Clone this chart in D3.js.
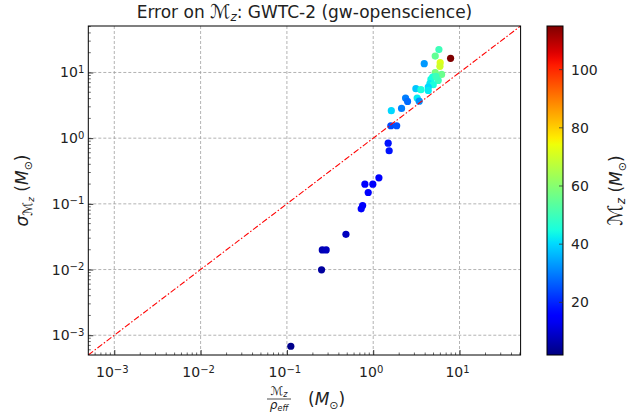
<!DOCTYPE html>
<html>
<head>
<meta charset="utf-8">
<script src="https://cdn.jsdelivr.net/npm/d3@7"></script>
<style>
  body { margin: 0; background: #fff; }
  svg { display: block; font-family: "DejaVu Sans", sans-serif; }
</style>
</head>
<body>
<svg id="chart" width="641" height="420"></svg>
<script>
// ---- data ----
const mzOverRho = [0.111, 0.252, 0.257, 0.285, 0.483, 0.726, 0.754, 0.801, 0.99, 0.875, 1.164,
  1.49, 1.53, 1.60, 1.87, 1.62, 2.13, 2.37, 2.50, 3.12, 3.57, 3.23, 3.41, 3.90,
  5.77, 5.23, 5.97, 5.93, 7.88, 5.23, 6.2,
  4.66, 4.54, 5.66, 4.96, 4.34, 4.34, 4.88, 5.33];
const sigmaMz = [0.00068, 0.0099, 0.0199, 0.0199, 0.0344, 0.0839, 0.0942, 0.199, 0.199, 0.149, 0.249,
  0.84, 0.643, 1.546, 1.546, 2.62, 2.84, 4.07, 3.63, 5.66, 5.47, 4.07, 3.66, 13.6,
  22.3, 17.8, 14.1, 12.4, 16.4, 9.93, 9.35,
  7.85, 6.75, 7.58, 6.52, 5.99, 5.33, 8.51, 8.7];
const chirpMassZ = [3, 5, 7, 8, 8, 14, 14, 15, 14, 15, 16,
  18, 18, 24, 25, 40, 30, 30, 28, 38, 45, 42, 32, 33,
  50, 55, 72, 70, 115, 58, 56,
  44, 42, 50, 45, 40, 42, 45, 50];
const xTickExps = [-3, -2, -1, 0, 1];
const yTickExps = [-3, -2, -1, 0, 1];
const cbTicks = [20, 40, 60, 80, 100];
const axisDomain = [5e-4, 51];
const cbDomain = [1.9, 115];

// ---- layout ----
const svg = d3.select("#chart");
const L = 88.3, R = 520.6, T = 26, B = 355;
const cbL = 547, cbR = 563;

const x = d3.scaleLog().domain(axisDomain).range([L, R]);
const y = d3.scaleLog().domain(axisDomain).range([B, T]);
const c = d3.scaleLinear().domain(cbDomain).range([B, T]);

// jet colormap (matplotlib segment data)
const jr = d3.scaleLinear().domain([0, 0.35, 0.66, 0.89, 1]).range([0, 0, 1, 1, 0.5]).clamp(true);
const jg = d3.scaleLinear().domain([0, 0.125, 0.375, 0.64, 0.91, 1]).range([0, 0, 1, 1, 0, 0]).clamp(true);
const jb = d3.scaleLinear().domain([0, 0.11, 0.34, 0.65, 1]).range([0.5, 1, 1, 0, 0]).clamp(true);
const norm = d3.scaleLinear().domain(cbDomain).range([0, 1]).clamp(true);
function jet(v) {
  const t = norm(v);
  return d3.rgb(jr(t) * 255, jg(t) * 255, jb(t) * 255).formatHex();
}

// grid
const majorX = xTickExps.map(e => Math.pow(10, e));
const majorY = yTickExps.map(e => Math.pow(10, e));
const grid = svg.append("g").attr("stroke", "#a0a0a0").attr("stroke-width", 0.8).attr("stroke-dasharray", "3,2");
grid.selectAll(".gx").data(majorX).join("line")
  .attr("x1", d => x(d)).attr("x2", d => x(d)).attr("y1", T).attr("y2", B);
grid.selectAll(".gy").data(majorY).join("line")
  .attr("y1", d => y(d)).attr("y2", d => y(d)).attr("x1", L).attr("x2", R);

// points
const clipId = "plotclip";
svg.append("clipPath").attr("id", clipId).append("rect").attr("x", L).attr("y", T).attr("width", R - L).attr("height", B - T);
const pts = mzOverRho.map((v, i) => ({ x: v, y: sigmaMz[i], m: chirpMassZ[i] }));
svg.append("g").attr("clip-path", `url(#${clipId})`)
  .selectAll("circle").data(pts).join("circle")
  .attr("cx", d => x(d.x)).attr("cy", d => y(d.y)).attr("r", 3.6)
  .attr("fill", d => jet(d.m));

// y = x line
svg.append("g").attr("clip-path", `url(#${clipId})`)
  .append("line")
  .attr("x1", x(axisDomain[0])).attr("y1", y(axisDomain[0]))
  .attr("x2", x(axisDomain[1])).attr("y2", y(axisDomain[1]))
  .attr("stroke", "#ff0000").attr("stroke-width", 1.1).attr("stroke-dasharray", "6,2,1.5,2");

// axes with inward ticks
function supLabel(sel, exp) {
  sel.text(null);
  sel.append("tspan").text("10");
  sel.append("tspan").attr("dy", "-0.45em").attr("font-size", "10px").text(exp < 0 ? "\u2212" + (-exp) : String(exp));
}
const xAxis = d3.axisBottom(x).tickValues(majorX).tickSize(-5).tickPadding(9).tickFormat(() => "");
const gx = svg.append("g").attr("transform", `translate(0,${B})`).call(xAxis);
const yAxis = d3.axisLeft(y).tickValues(majorY).tickSize(-5).tickPadding(4).tickFormat(() => "");
const gy = svg.append("g").attr("transform", `translate(${L},0)`).call(yAxis);
[gx, gy].forEach(g => { g.select(".domain").remove(); g.selectAll("line").attr("stroke", "#000").attr("stroke-width", 0.8); });

// minor ticks
const minorX = [], minorY = [];
for (let e = -4; e <= 1; e++) for (let k = 2; k <= 9; k++) {
  const v = k * Math.pow(10, e);
  if (v > axisDomain[0] && v < axisDomain[1]) { minorX.push(v); minorY.push(v); }
}
svg.append("g").selectAll("line").data(minorX).join("line")
  .attr("x1", d => x(d)).attr("x2", d => x(d)).attr("y1", B).attr("y2", B - 2.5)
  .attr("stroke", "#000").attr("stroke-width", 0.6);
svg.append("g").selectAll("line").data(minorY).join("line")
  .attr("y1", d => y(d)).attr("y2", d => y(d)).attr("x1", L).attr("x2", L + 2.5)
  .attr("stroke", "#000").attr("stroke-width", 0.6);

// tick labels
svg.append("g").selectAll("text").data(xTickExps).join("text")
  .attr("x", d => x(Math.pow(10, d)) - 2).attr("y", B + 22).attr("text-anchor", "middle")
  .attr("font-size", "14px").attr("fill", "#222")
  .each(function (d) { supLabel(d3.select(this), d); });
svg.append("g").selectAll("text").data(yTickExps).join("text")
  .attr("x", L - 4).attr("y", d => y(Math.pow(10, d)) + 5).attr("text-anchor", "end")
  .attr("font-size", "14px").attr("fill", "#222")
  .each(function (d) { supLabel(d3.select(this), d); });

// frame
svg.append("rect").attr("x", L).attr("y", T).attr("width", R - L).attr("height", B - T)
  .attr("fill", "none").attr("stroke", "#000").attr("stroke-width", 1);

// title
const title = svg.append("text").attr("x", (L + R) / 2).attr("y", 18).attr("text-anchor", "middle")
  .attr("font-size", "17px").attr("fill", "#222");
title.append("tspan").text("Error on ");
title.append("tspan").attr("font-size", "19px").text("\u2133");
title.append("tspan").attr("font-style", "italic").attr("font-size", "12px").attr("dy", "3").text("z");
title.append("tspan").attr("dy", "-3").text(": GWTC-2 (gw-openscience)");

// y label
const yl = svg.append("text").attr("transform", `translate(28,${(T + B) / 2}) rotate(-90)`)
  .attr("text-anchor", "middle").attr("font-size", "17px").attr("fill", "#222");
yl.append("tspan").attr("font-style", "italic").text("\u03c3");
yl.append("tspan").attr("font-size", "13px").attr("dy", "4").text("\u2133");
yl.append("tspan").attr("font-size", "9px").attr("font-style", "italic").attr("dy", "2").text("z");
yl.append("tspan").attr("dy", "-6").text(" (");
yl.append("tspan").attr("font-style", "italic").text("M");
yl.append("tspan").attr("font-size", "11px").attr("dy", "4").text("\u2299");
yl.append("tspan").attr("dy", "-4").text(")");

// x label (fraction)
const fx = 279, fy = 402;
const num = svg.append("text").attr("x", fx).attr("y", fy - 7).attr("text-anchor", "middle")
  .attr("font-size", "12px").attr("fill", "#222");
num.append("tspan").text("\u2133");
num.append("tspan").attr("font-style", "italic").attr("font-size", "8px").attr("dy", "2").text("z");
svg.append("line").attr("x1", fx - 12).attr("x2", fx + 12).attr("y1", fy - 3).attr("y2", fy - 3)
  .attr("stroke", "#222").attr("stroke-width", 0.8);
const den = svg.append("text").attr("x", fx).attr("y", fy + 7).attr("text-anchor", "middle")
  .attr("font-size", "12px").attr("fill", "#222").attr("font-style", "italic");
den.append("tspan").text("\u03c1");
den.append("tspan").attr("font-size", "8px").attr("dy", "2").text("eff");
const xl = svg.append("text").attr("x", fx + 29).attr("y", fy + 3).attr("font-size", "17px").attr("fill", "#222");
xl.append("tspan").text("(");
xl.append("tspan").attr("font-style", "italic").text("M");
xl.append("tspan").attr("font-size", "11px").attr("dy", "4").text("\u2299");
xl.append("tspan").attr("dy", "-4").text(")");

// colorbar
const defs = svg.append("defs");
const grad = defs.append("linearGradient").attr("id", "jetgrad").attr("x1", 0).attr("y1", 1).attr("x2", 0).attr("y2", 0);
const stops = d3.range(0, 1.0001, 0.02);
grad.selectAll("stop").data(stops).join("stop")
  .attr("offset", d => d).attr("stop-color", d => jet(cbDomain[0] + d * (cbDomain[1] - cbDomain[0])));
svg.append("rect").attr("x", cbL).attr("y", T).attr("width", cbR - cbL).attr("height", B - T)
  .attr("fill", "url(#jetgrad)").attr("stroke", "#000").attr("stroke-width", 1);
const cbAxis = svg.append("g");
cbAxis.selectAll("line").data(cbTicks).join("line")
  .attr("x1", cbR - 4).attr("x2", cbR).attr("y1", d => c(d)).attr("y2", d => c(d))
  .attr("stroke", "#333").attr("stroke-width", 0.8);
cbAxis.selectAll("text").data(cbTicks).join("text")
  .attr("x", cbR + 8).attr("y", d => c(d) + 5).attr("font-size", "14px").attr("fill", "#222").text(d => d);

const cl = svg.append("text").attr("transform", `translate(622,${(T + B) / 2}) rotate(-90)`)
  .attr("text-anchor", "middle").attr("font-size", "17px").attr("fill", "#222");
cl.append("tspan").attr("font-size", "20px").text("\u2133");
cl.append("tspan").attr("font-style", "italic").attr("font-size", "12px").attr("dy", "3").text("z");
cl.append("tspan").attr("dy", "-3").text(" (");
cl.append("tspan").attr("font-style", "italic").text("M");
cl.append("tspan").attr("font-size", "11px").attr("dy", "4").text("\u2299");
cl.append("tspan").attr("dy", "-4").text(")");
</script>
</body>
</html>
